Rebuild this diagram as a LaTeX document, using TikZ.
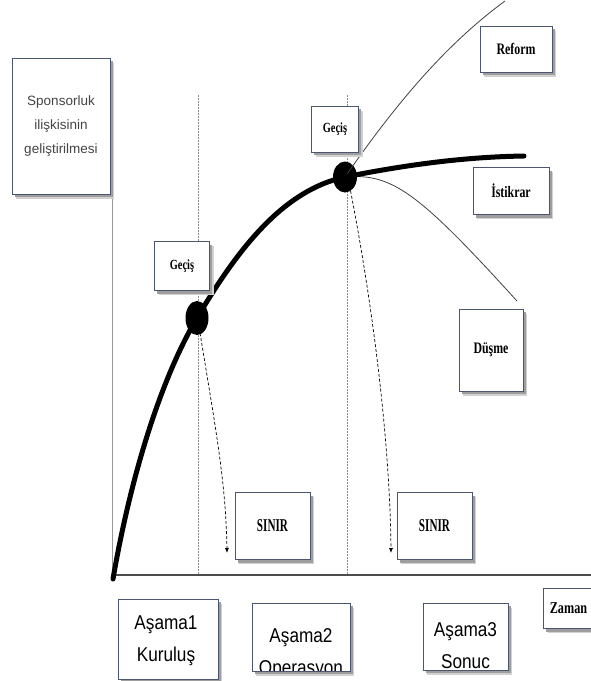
\documentclass[tikz,border=0pt]{standalone}
\usepackage{fontspec}
\setmainfont{Liberation Serif}
\setsansfont{Liberation Sans}
\newfontfamily\narrowserif[FakeStretch=0.74]{Liberation Serif}
\newfontfamily\tallserif[FakeStretch=0.62]{Liberation Serif}
\newfontfamily\narrowsans[FakeStretch=0.86]{Liberation Sans}
\usetikzlibrary{arrows.meta,shapes.geometric}
\definecolor{boxedge}{HTML}{4A5670}
\definecolor{greytext}{HTML}{444444}
\begin{document}
\begin{tikzpicture}[x=1pt,y=-1pt,
  card/.style={draw=boxedge,line width=1pt,fill=white,
    preaction={fill=black!18,transform canvas={xshift=4pt,yshift=-4.5pt}},
    preaction={fill=black!38,transform canvas={xshift=2.5pt,yshift=-3pt}},
    inner sep=0pt,align=center},
  serifbold/.style={font=\narrowserif\fontsize{16}{18}\selectfont\bfseries},
  sanslabel/.style={font=\narrowsans\fontsize{20}{32}\selectfont},
  guide/.style={draw=black!45,line width=0.5pt,dash pattern=on 1.5pt off 1.5pt},
  boundary/.style={draw=black,line width=0.7pt,dash pattern=on 3pt off 2pt,
    -{Latex[length=5pt,width=4pt]}},
  branch/.style={draw=black!75,line width=0.8pt},
  growth/.style={draw=black,line width=5pt,line cap=round},
  knot/.style={ellipse,fill=black,inner sep=0pt}
]
\useasboundingbox (0,0) rectangle (591,681);

% stage guides
\coordinate (g1top) at (198,95);
\coordinate (g1bot) at (198,575);
\coordinate (g2top) at (347,95);
\coordinate (g2bot) at (347,575);
\draw[guide] (g1top) -- (g1bot);
\draw[guide] (g2top) -- (g2bot);

% axes
\coordinate (origin) at (112,575);
\coordinate (axisend) at (591,575);
\coordinate (axistop) at (112,120);
\draw[draw=black!40,line width=1pt] (axistop) -- (origin);
\draw[draw=black!70,line width=1.2pt] (origin) -- (axisend);

% transition points
\node[knot,minimum width=23pt,minimum height=34pt] (k1) at (197,318) {};
\node[knot,minimum width=24pt,minimum height=31pt] (k2) at (345,177) {};

% branches after the second transition
\coordinate (reformend) at (505,1);
\coordinate (dropend) at (517,301);
\draw[branch] (k2.center) .. controls (395,105) and (445,45) .. (reformend);
\draw[branch] (k2.center) .. controls (392,173) and (418,192) .. (dropend);

% main development curve
\coordinate (start) at (113,579);
\coordinate (plateau) at (524,156);
\draw[growth] (start) .. controls (130,480) and (160,380) .. (k1.center)
  .. controls (240,245) and (285,190) .. (k2.center)
  .. controls (400,166) and (460,157) .. (plateau);

% boundary arrows
\coordinate (b1) at (227,553);
\coordinate (b2) at (391,553);
\draw[boundary] (k1.south east) ++(-6,-2) .. controls (214,420) and (226,480) .. (b1);
\draw[boundary] (k2.south east) ++(-4,-2) .. controls (372,300) and (390,440) .. (b2);

% labels
\node[card,minimum width=98pt,minimum height=136pt,
  font=\sffamily\fontsize{13.5}{24}\selectfont,text=greytext] (sponsor) at (61,126)
  {Sponsorluk\\ilişkisinin\\geliştirilmesi};
\node[card,font=\narrowserif\fontsize{14}{16}\selectfont\bfseries,
  minimum width=55pt,minimum height=49pt] (gecis1) at (182,266) {Geçiş};
\node[card,font=\narrowserif\fontsize{14}{16}\selectfont\bfseries,
  minimum width=47pt,minimum height=46pt] (gecis2) at (335,129) {Geçiş};
\node[card,serifbold,minimum width=72pt,minimum height=46pt] (reform) at (516,49) {Reform};
\node[card,serifbold,minimum width=76pt,minimum height=47pt] (istikrar) at (511,191) {İstikrar};
\node[card,serifbold,minimum width=64pt,minimum height=82pt] (dusme) at (491,350) {Düşme};
\node[card,font=\tallserif\fontsize{18}{20}\selectfont\bfseries,
  minimum width=75pt,minimum height=67pt] (sinir1) at (272.5,526) {SINIR};
\node[card,font=\tallserif\fontsize{18}{20}\selectfont\bfseries,
  minimum width=75pt,minimum height=67pt] (sinir2) at (434.5,526) {SINIR};
\node[card,font=\narrowserif\fontsize{16.5}{18}\selectfont\bfseries,
  minimum width=50pt,minimum height=40pt,anchor=north west] (zaman) at (543,588) {Zaman};

% stage boxes
\node[card,minimum width=100pt,minimum height=80pt] (asama1) at (168,639) {};
\node[sanslabel,align=center] (asama1txt) at (166,641) {Aşama1\\Kuruluş};
\node[card,minimum width=98pt,minimum height=68pt] (asama2) at (301,637) {};
\node[card,minimum width=85pt,minimum height=67pt] (asama3) at (465.5,636.5) {};
\begin{scope}
  \clip (asama2.north west) rectangle (asama2.south east);
  \node[sanslabel,align=center] (asama2txt) at (301,654) {Aşama2\\Operasyon};
\end{scope}
\begin{scope}
  \clip (asama3.north west) rectangle (asama3.south east);
  \node[sanslabel,align=center] (asama3txt) at (465.5,646) {Aşama3\\Sonuc};
\end{scope}
\draw[draw=boxedge,line width=1pt] (asama2.south west) -- (asama2.south east);
\draw[draw=boxedge,line width=1pt] (asama3.south west) -- (asama3.south east);
\end{tikzpicture}
\end{document}
